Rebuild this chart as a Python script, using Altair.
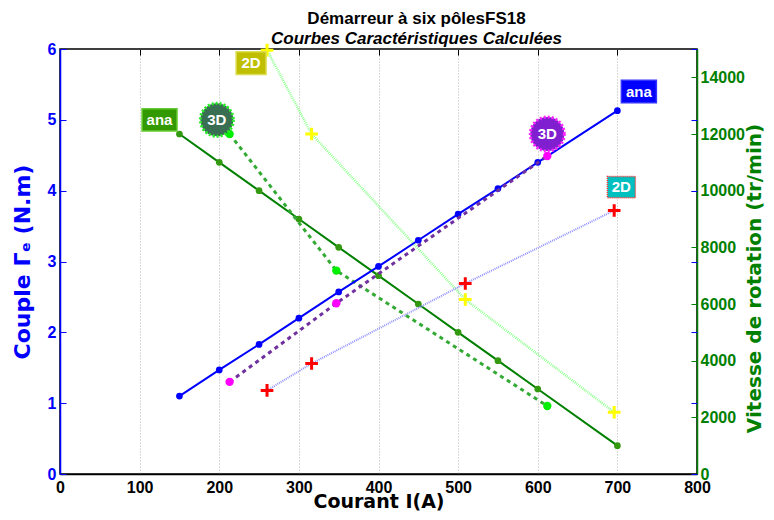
import altair as alt
import pandas as pd

# ---------------- data ----------------
I_ana = [150, 200, 250, 300, 350, 400, 450, 500, 550, 600, 700]
couple_ana = [1.10, 1.47, 1.83, 2.20, 2.57, 2.93, 3.30, 3.67, 4.03, 4.40, 5.13]
vitesse_ana = [12000, 11000, 10000, 9000, 8000, 7000, 6000, 5000, 4000, 3000, 1000]

I_3d = [213, 347, 612]
couple_3d = [1.30, 2.41, 4.49]
vitesse_3d = [12000, 7180, 2400]

I_2d = [260, 316, 509, 696]
couple_2d = [1.18, 1.56, 2.69, 3.72]
vitesse_2d = [14960, 12000, 6160, 2180]

ann_text = ["ana", "3D", "2D", "ana", "3D", "2D"]
ann_I = [125, 197, 240, 727, 612, 705]
ann_couple = [5.0, 5.0, 5.8, 5.4, 4.8, 4.05]

x_ticks = [0, 100, 200, 300, 400, 500, 600, 700, 800]
left_ticks = [0, 1, 2, 3, 4, 5, 6]
right_ticks = [0, 2000, 4000, 6000, 8000, 10000, 12000, 14000]

df_ana = pd.DataFrame({"I": I_ana, "C": couple_ana, "V": vitesse_ana})
df_3d = pd.DataFrame({"I": I_3d, "C": couple_3d, "V": vitesse_3d})
df_2d = pd.DataFrame({"I": I_2d, "C": couple_2d, "V": vitesse_2d})
df_ann = pd.DataFrame({"t": ann_text, "I": ann_I, "C": ann_couple})

FONT = "Liberation Sans"
TFONT = "DejaVu Sans"
GREEN = "#008000"

xscale = alt.Scale(domain=[0, 800], nice=False, zero=False)
lscale = alt.Scale(domain=[0, 6], nice=False)
rscale = alt.Scale(domain=[0, 15000], nice=False)

x_bottom = alt.Axis(orient="bottom", values=x_ticks, format="d", labelFont=FONT,
                    labelFontSize=16, labelFontWeight="bold", labelColor="black",
                    labelPadding=5, labelFlush=False, ticks=False, tickSize=0,
                    domainColor="black", domainWidth=1.5, grid=True, gridColor="#b4b4b4",
                    gridDash=[1, 2], gridWidth=1, title="Courant I(A)", titleFont=TFONT,
                    titleFontSize=19, titleFontWeight="bold", titleColor="black",
                    titlePadding=-3)
x_top = alt.Axis(orient="top", values=x_ticks, labels=False, ticks=True, tickSize=6,
                 tickColor="black", tickWidth=1, domain=False, grid=False, offset=-6,
                 title=None)

y_left = alt.Axis(orient="left", values=left_ticks, labelFont=FONT, labelFontSize=16,
                  labelFontWeight="bold", labelColor="blue", labelPadding=4,
                  labelFlush=False, ticks=False, tickSize=0, domainColor="blue",
                  domainWidth=1.5, grid=False, title="Couple Γₑ (N.m)", titleFont=TFONT,
                  titleFontSize=22, titleFontWeight="bold", titleColor="blue",
                  titlePadding=13)
y_left_in = alt.Axis(orient="left", values=left_ticks, labels=False, ticks=True, tickSize=6,
                     tickColor="blue", domain=False, grid=False, offset=-6, title=None)
y_left_in_r = alt.Axis(orient="right", values=left_ticks, labels=False, ticks=True,
                       tickSize=6, tickColor="blue", domain=False, grid=False, offset=-6,
                       title=None)

y_right = alt.Axis(orient="right", values=right_ticks, format="d", labelFont=FONT,
                   labelFontSize=16, labelFontWeight="bold", labelColor=GREEN,
                   labelPadding=3, labelFlush=False, ticks=False, tickSize=0,
                   domainColor=GREEN, domainWidth=1.5, grid=False,
                   title="Vitesse de rotation (tr/min)", titleFont=TFONT, titleFontSize=20,
                   titleFontWeight="bold", titleColor=GREEN, titleAngle=270,
                   titleBaseline="top", titlePadding=0, titleY=229)
y_right_in = alt.Axis(orient="right", values=right_ticks, labels=False, ticks=True,
                      tickSize=6, tickColor=GREEN, domain=False, grid=False, offset=-6,
                      title=None)

PLUS = "M-1,0H1M0,-1V1"


def xb():
    return alt.X("I:Q", scale=xscale, axis=x_bottom)


def xt():
    return alt.X("I:Q", scale=xscale, axis=x_top)


def yl(axis=None):
    return alt.Y("C:Q", scale=lscale, axis=axis)


def yr(axis=None):
    return alt.Y("V:Q", scale=rscale, axis=axis)


# ---------- left (couple) ----------
l_ana_line = alt.Chart(df_ana).mark_line(color="blue", strokeWidth=2).encode(x=xb(), y=yl(y_left))
l_ana_pts = alt.Chart(df_ana).mark_point(filled=True, color="blue", size=45, opacity=1).encode(x=xb(), y=yl(y_left_in))
l_3d_line = alt.Chart(df_3d).mark_line(color="#7030a0", strokeWidth=3, strokeDash=[4, 4]).encode(x=xb(), y=yl(y_left_in_r))
l_3d_pts = alt.Chart(df_3d).mark_point(filled=True, color="#ff00ff", size=70, opacity=1).encode(x=xb(), y=yl())
l_2d_line = alt.Chart(df_2d).mark_line(color="#9090ff", strokeWidth=2, strokeDash=[1, 1]).encode(x=xb(), y=yl())
l_2d_pts = alt.Chart(df_2d).mark_point(shape=PLUS, filled=False, color="red", strokeWidth=3, size=160, opacity=1).encode(x=xb(), y=yl())


def box(idx, fill, stroke, shape, size, dash=None, sw=1.5):
    d = df_ann.iloc[[idx]]
    kw = dict(shape=shape, filled=True, fill=fill, stroke=stroke, strokeWidth=sw,
              size=size, opacity=1, fillOpacity=1)
    if dash is not None:
        kw["strokeDash"] = dash
    b = alt.Chart(d).mark_point(**kw).encode(x=xb(), y=yl())
    t = alt.Chart(d).mark_text(font=FONT, fontSize=15, fontWeight="bold", color="white",
                               align="center", baseline="middle").encode(x=xb(), y=yl(), text="t:N")
    return [b, t]


RECT_W = "M-1,-0.64H1V0.64H-1Z"
RECT_S = "M-1,-0.76H1V0.76H-1Z"
anns = []
anns += box(0, "#339900", "#66cc33", RECT_W, 1225)
anns += box(1, "#3a6e52", "#22ee22", "circle", 1089, dash=[2, 2], sw=3)
anns += box(2, "#bfbf00", "#dddd55", RECT_S, 900)
anns += box(3, "#0000ff", "#3333ff", RECT_W, 1225)
anns += box(4, "#7f1fd0", "#ff22ff", "circle", 1156, dash=[2, 2], sw=3)
anns += box(5, "#00bfbf", "#ff3333", RECT_S, 784, dash=[1, 1], sw=1.5)

left = alt.layer(l_ana_line, l_ana_pts, l_3d_line, l_3d_pts, l_2d_line, l_2d_pts,
                 *anns).resolve_axis(y="independent")

# ---------- right (vitesse) ----------
r_ana_line = alt.Chart(df_ana).mark_line(color=GREEN, strokeWidth=2).encode(x=xt(), y=yr(y_right))
r_ana_pts = alt.Chart(df_ana).mark_point(filled=True, color="#339910", size=45, opacity=1).encode(x=xt(), y=yr(y_right_in))
r_3d_line = alt.Chart(df_3d).mark_line(color="#33aa33", strokeWidth=3, strokeDash=[4, 4]).encode(x=xt(), y=yr())
r_3d_pts = alt.Chart(df_3d).mark_point(filled=True, color="#00ee00", size=70, opacity=1).encode(x=xt(), y=yr())
r_2d_line = alt.Chart(df_2d).mark_line(color="#90ff90", strokeWidth=2.5, strokeDash=[1, 1]).encode(x=xt(), y=yr())
r_2d_pts = alt.Chart(df_2d).mark_point(shape=PLUS, filled=False, color="#ffff00", strokeWidth=3, size=160, opacity=1).encode(x=xt(), y=yr())

right = alt.layer(r_ana_line, r_ana_pts, r_3d_line, r_3d_pts, r_2d_line,
                  r_2d_pts).resolve_axis(y="independent")

chart = alt.layer(right, left).resolve_scale(y="independent").resolve_axis(x="independent").properties(
    width=637, height=425,
    autosize=alt.AutoSizeParams(type="none"),
    padding={"left": 52, "top": 41, "right": 69, "bottom": 38},
    title=alt.TitleParams(
        text="Démarreur à six pôlesFS18",
        subtitle="Courbes Caractéristiques Calculées",
        font=FONT, fontSize=17, fontWeight="bold", color="black",
        subtitleFont=FONT, subtitleFontSize=17, subtitleFontWeight="bold",
        subtitleFontStyle="italic", subtitleColor="black", subtitlePadding=3,
        anchor="middle", dx=38, offset=-10),
).configure(font=FONT).configure_view(stroke="black", strokeWidth=1.5)

chart.save("out.html", embed_options={"renderer": "svg", "actions": False})
